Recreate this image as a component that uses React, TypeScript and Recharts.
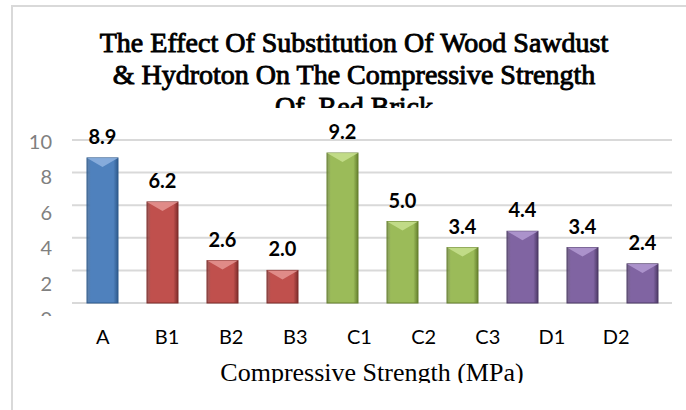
import { BarChart, Bar, XAxis, YAxis, CartesianGrid, Cell, LabelList } from 'recharts';

// bar values, one per mix (the last purple bar has no label in the source)
const groups = ['A', 'B', 'B', 'B', 'C', 'C', 'C', 'D', 'D', 'D'];
const strengths = [8.9, 6.2, 2.6, 2.0, 9.2, 5.0, 3.4, 4.4, 3.4, 2.4];
const tickLabels = ['A', 'B1', 'B2', 'B3', 'C1', 'C2', 'C3', 'D1', 'D2'];
const yTicks = [0, 2, 4, 6, 8, 10];

const groupColors: Record<string, { base: string; light: string; dark: string }> = {
  A: { base: '#4f81bd', light: '#8fb3e0', dark: '#2f5a8c' },
  B: { base: '#c0504d', light: '#e59593', dark: '#7e2d2b' },
  C: { base: '#9bbb59', light: '#c8e08f', dark: '#66802f' },
  D: { base: '#8064a2', light: '#b39ad2', dark: '#4d3a66' },
};

const data = strengths.map((value, i) => ({ id: i, group: groups[i], value }));

function BevelBar(props: any) {
  const { x, y, width, height, payload } = props;
  if (!height || height <= 0) return null;
  const c = groupColors[payload.group];
  const bevel = Math.min(9, height / 2);
  return (
    <g>
      <rect x={x} y={y} width={width} height={height} fill={`url(#grad-${payload.group})`} stroke={c.dark} strokeWidth={1} />
      <polygon points={`${x},${y} ${x + width},${y} ${x + width / 2},${y + bevel}`} fill={c.light} opacity={0.85} />
    </g>
  );
}

function YTick(props: any) {
  const { x, y, payload } = props;
  return (
    <text x={x} y={y} dy={7} textAnchor="end" fill="#808080" fontSize={20} fontFamily="Lato" clipPath="url(#yTickClip)">
      {payload.value}
    </text>
  );
}

export default function App() {
  return (
    <div style={{ position: 'absolute', left: 0, top: 0, width: 686, height: 410, background: '#fff', overflow: 'hidden' }}>
      <div style={{ position: 'absolute', left: 11, top: 5, width: 700, height: 420, borderLeft: '2px solid #d9d9d9', borderTop: '2px solid #d9d9d9' }} />
      <BarChart width={686} height={410} data={data} margin={{ top: 140, right: 14, left: 10, bottom: 0 }}>
        <defs>
          {Object.keys(groupColors).map((g) => (
            <linearGradient key={g} id={`grad-${g}`} x1="0" y1="0" x2="1" y2="0">
              <stop offset="0%" stopColor={groupColors[g].dark} stopOpacity={0.75} />
              <stop offset="12%" stopColor={groupColors[g].base} />
              <stop offset="85%" stopColor={groupColors[g].base} />
              <stop offset="100%" stopColor={groupColors[g].dark} />
            </linearGradient>
          ))}
          <clipPath id="yTickClip">
            <rect x={0} y={0} width={80} height={316} />
          </clipPath>
        </defs>
        <CartesianGrid vertical={false} stroke="#d9d9d9" strokeWidth={2} />
        <XAxis dataKey="id" type="category" hide height={0} />
        <XAxis
          xAxisId="labels"
          dataKey="id"
          type="number"
          domain={[0.52, 9.87]}
          allowDataOverflow
          ticks={tickLabels.map((_, i) => i + 1)}
          tickFormatter={(v: number) => tickLabels[v - 1]}
          interval={0}
          axisLine={false}
          tickLine={false}
          tickSize={0}
          tickMargin={27}
          height={107}
          tick={{ fill: '#000', fontSize: 20, fontFamily: 'Lato' }}
        />
        <YAxis domain={[0, 10]} ticks={yTicks} hide width={0} />
        <YAxis
          yAxisId="labels"
          type="number"
          domain={[0.9, 10.11]}
          allowDataOverflow
          ticks={yTicks}
          interval={0}
          width={62}
          axisLine={false}
          tickLine={false}
          tickSize={0}
          tickMargin={20}
          tick={<YTick />}
        />
        <Bar dataKey="value" barSize={31} isAnimationActive={false} shape={<BevelBar />}>
          {data.map((d) => (
            <Cell key={d.id} fill={groupColors[d.group].base} />
          ))}
          <LabelList
            dataKey="value"
            position="top"
            offset={14}
            formatter={(v: any) => Number(v).toFixed(1)}
            style={{ fill: '#000', fontSize: 20, fontWeight: 700, fontFamily: 'Lato' }}
          />
        </Bar>
      </BarChart>
      <div
        style={{
          position: 'absolute', left: 54, top: 27, width: 600, height: 81, overflow: 'hidden',
          textAlign: 'center', fontFamily: '"Liberation Serif", "Times New Roman", serif',
          fontWeight: 400, WebkitTextStroke: '0.9px #000', fontSize: 28, lineHeight: '32px', color: '#000',
        }}
      >
        The Effect Of Substitution Of Wood Sawdust
        <br />
        &amp; Hydroton On The Compressive Strength
        <br />
        Of&nbsp; Red Brick
      </div>
      <div
        style={{
          position: 'absolute', left: 172, top: 360, width: 400, height: 23, overflow: 'hidden',
          textAlign: 'center', fontFamily: '"Liberation Serif", "Times New Roman", serif',
          fontSize: 26, lineHeight: '26px', color: '#000',
        }}
      >
        Compressive Strength (MPa)
      </div>
    </div>
  );
}
